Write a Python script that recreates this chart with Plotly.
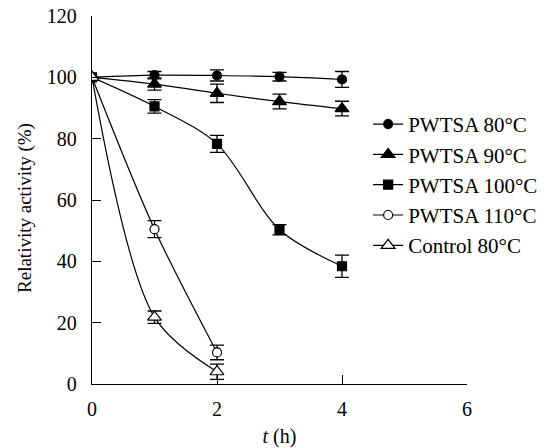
import plotly.graph_objects as go

# Data
t_long = [0, 1, 2, 3, 4]
t_short = [0, 1, 2]

names = ["PWTSA 80°C", "PWTSA 90°C", "PWTSA 100°C", "PWTSA 110°C", "Control 80°C"]

y_80 = [100, 100.7, 100.6, 100.2, 99.3]
e_80 = [0, 1.2, 1.8, 1.4, 2.6]

y_90 = [100, 97.8, 94.8, 92.1, 89.8]
e_90 = [0, 2.0, 3.0, 2.4, 2.4]

y_100 = [100, 90.5, 78.3, 50.3, 38.4]
e_100 = [0, 2.2, 2.8, 1.7, 3.6]

y_110 = [100, 50.5, 10.3]
e_110 = [0, 2.8, 2.4]

y_ctrl = [100, 21.8, 4.0]
e_ctrl = [0, 2.0, 2.5]

x_ticks = [0, 2, 4, 6]
y_ticks = [0, 20, 40, 60, 80, 100, 120]

FONT = "Liberation Serif, Times New Roman, serif"

series = [
    (t_long, y_80, e_80, "circle", "black", 9),
    (t_long, y_90, e_90, "triangle-up", "black", 12),
    (t_long, y_100, e_100, "square", "black", 9),
    (t_short, y_110, e_110, "circle", "white", 9),
    (t_short, y_ctrl, e_ctrl, "triangle-up", "white", 12),
]

fig = go.Figure()
for i, (xs, ys, es, sym, fill, sz) in enumerate(series):
    fig.add_trace(go.Scatter(
        x=xs, y=ys, name=names[i], legendgroup=f"g{i}",
        mode="lines+markers",
        line=dict(color="black", width=1.2, shape="spline", smoothing=0.9),
        marker=dict(symbol=sym, size=sz, color=fill, line=dict(color="black", width=1.2)),
        error_y=dict(type="data", array=es, visible=True, color="black", thickness=1.3, width=7),
    ))

fig.add_annotation(
    text="Relativity activity (%)", textangle=-90,
    xref="paper", yref="paper", x=-0.179, y=0.478,
    xanchor="center", yanchor="middle", showarrow=False,
    font=dict(size=19, family=FONT, color="black"),
)

fig.update_layout(
    width=547, height=448,
    margin=dict(l=92, r=80, t=16, b=64, autoexpand=False),
    paper_bgcolor="white", plot_bgcolor="white",
    font=dict(family=FONT, size=20, color="black"),
    showlegend=True,
    legend=dict(xref="container", yref="container", x=0.673, y=0.768,
                xanchor="left", yanchor="top",
                bgcolor="rgba(0,0,0,0)", font=dict(size=21, family=FONT),
                tracegroupgap=0),
    xaxis=dict(range=[0, 6], tickvals=x_ticks, ticks="inside", ticklen=9,
               tickwidth=1.2, tickcolor="black", showline=True, linecolor="black",
               linewidth=1.3, showgrid=False, zeroline=False, automargin=False,
               ticklabelstandoff=7, ticklabeloverflow="allow",
               title=dict(text="<i>t</i> (h)", font=dict(size=20), standoff=9)),
    yaxis=dict(range=[0, 120], tickvals=y_ticks, ticks="inside", ticklen=9,
               tickwidth=1.2, tickcolor="black", showline=True, linecolor="black",
               linewidth=1.3, showgrid=False, zeroline=False, automargin=False,
               ticklabelstandoff=10, ticklabeloverflow="allow"),
)

fig.write_html("out.html", config={"displayModeBar": False},
               post_script="document.body.style.margin='0';")
